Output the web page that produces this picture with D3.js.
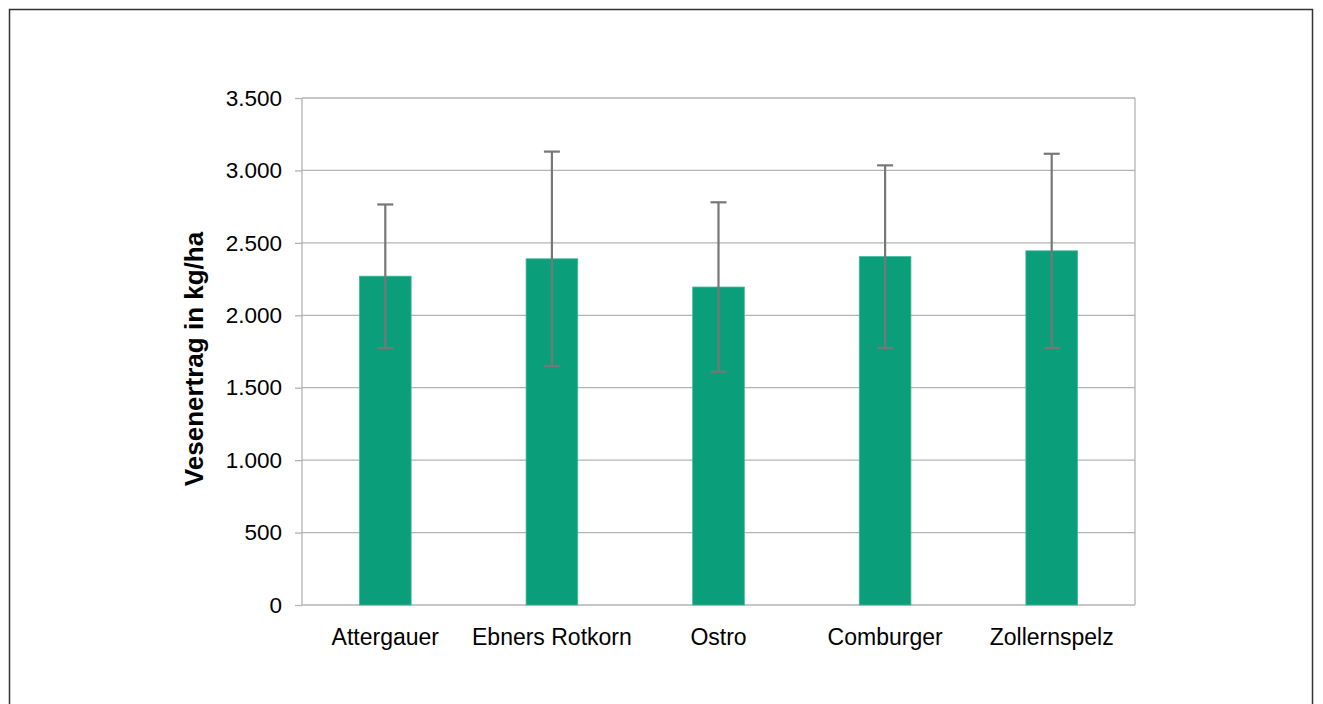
<!DOCTYPE html>
<html>
<head>
<meta charset="utf-8">
<script src="https://cdn.jsdelivr.net/npm/d3@7"></script>
<style>
  body { margin: 0; background: #fff; }
  svg { display: block; font-family: "Liberation Sans", Helvetica, Arial, sans-serif; }
  .grid line { stroke: #b3b3b3; stroke-width: 1.3; }
  .tick text { fill: #000; }
</style>
</head>
<body>
<svg id="chart" width="1323" height="704"></svg>
<script>
// Sorten und Werte (kg/ha), Fehlerbalken = Standardabweichung
var sorten = ["Attergauer", "Ebners Rotkorn", "Ostro", "Comburger", "Zollernspelz"];
var ertrag = [2270, 2390, 2195, 2405, 2445];
var fehler = [495, 740, 585, 630, 670];
var yTicks = [0, 500, 1000, 1500, 2000, 2500, 3000, 3500];

var svg = d3.select("#chart");

// outer frame
svg.append("rect")
    .attr("x", 9.5).attr("y", 9.5)
    .attr("width", 1303).attr("height", 720)
    .attr("fill", "none")
    .attr("stroke", "#333")
    .attr("stroke-width", 1.5);

var margin = {top: 98, left: 302};
var width = 833, height = 507;

var g = svg.append("g")
    .attr("transform", "translate(" + margin.left + "," + margin.top + ")");

var x = d3.scaleBand().domain(sorten).range([0, width]);
var y = d3.scaleLinear().domain([0, 3500]).range([height, 0]);

var fmt = function(d) { return d3.format(",")(d).replace(/,/g, "."); };

// horizontal grid + y ticks
var yAxis = d3.axisLeft(y).tickValues(yTicks).tickSize(7).tickPadding(13).tickFormat(fmt);
g.append("g").attr("class", "grid")
    .selectAll("line")
    .data(yTicks)
    .enter()
    .append("line")
        .attr("x1", 0).attr("x2", width)
        .attr("y1", function(d) { return y(d) })
        .attr("y2", function(d) { return y(d) });

var ya = g.append("g").call(yAxis);
ya.select(".domain").remove();
ya.selectAll(".tick line").attr("stroke", "#b3b3b3").attr("stroke-width", 1.3);
ya.selectAll(".tick text").attr("font-size", "22.5px");

// plot frame (left + right)
g.append("g").attr("class", "grid").selectAll("line")
    .data([0, width])
    .enter()
    .append("line")
        .attr("x1", function(d) { return d }).attr("x2", function(d) { return d })
        .attr("y1", 0).attr("y2", height);

// bars
var barW = x.bandwidth() * 0.31;
g.selectAll(".bar")
    .data(sorten)
    .enter()
    .append("rect")
        .attr("class", "bar")
        .attr("x", function(d) { return x(d) + x.bandwidth() / 2 - barW / 2 })
        .attr("y", function(d, i) { return y(ertrag[i]) })
        .attr("width", barW)
        .attr("height", function(d, i) { return height - y(ertrag[i]) })
        .attr("fill", "#0b9e7b")
        .attr("stroke", "#3fb897")
        .attr("stroke-width", 0.8);

// error bars
var err = g.selectAll(".err")
    .data(sorten)
    .enter()
    .append("g")
        .attr("class", "err")
        .attr("stroke", "#777")
        .attr("stroke-width", 2.2)
        .attr("transform", function(d) { return "translate(" + (x(d) + x.bandwidth() / 2) + ",0)" });

err.append("line")
    .attr("x1", 0).attr("x2", 0)
    .attr("y1", function(d, i) { return y(ertrag[i] + fehler[i]) })
    .attr("y2", function(d, i) { return y(ertrag[i] - fehler[i]) });
err.append("line")
    .attr("x1", -8).attr("x2", 8)
    .attr("y1", function(d, i) { return y(ertrag[i] + fehler[i]) })
    .attr("y2", function(d, i) { return y(ertrag[i] + fehler[i]) });
err.append("line")
    .attr("x1", -8).attr("x2", 8)
    .attr("y1", function(d, i) { return y(ertrag[i] - fehler[i]) })
    .attr("y2", function(d, i) { return y(ertrag[i] - fehler[i]) });

// x axis labels
var xa = g.append("g")
    .attr("transform", "translate(0," + height + ")")
    .call(d3.axisBottom(x).tickSize(0).tickPadding(24));
xa.select(".domain").remove();
xa.selectAll(".tick text").attr("font-size", "23px");

// y title
svg.append("text")
    .attr("transform", "translate(203,359) rotate(-90)")
    .attr("text-anchor", "middle")
    .attr("font-size", "26px")
    .attr("font-weight", "bold")
    .text("Vesenertrag in kg/ha");
</script>
</body>
</html>
